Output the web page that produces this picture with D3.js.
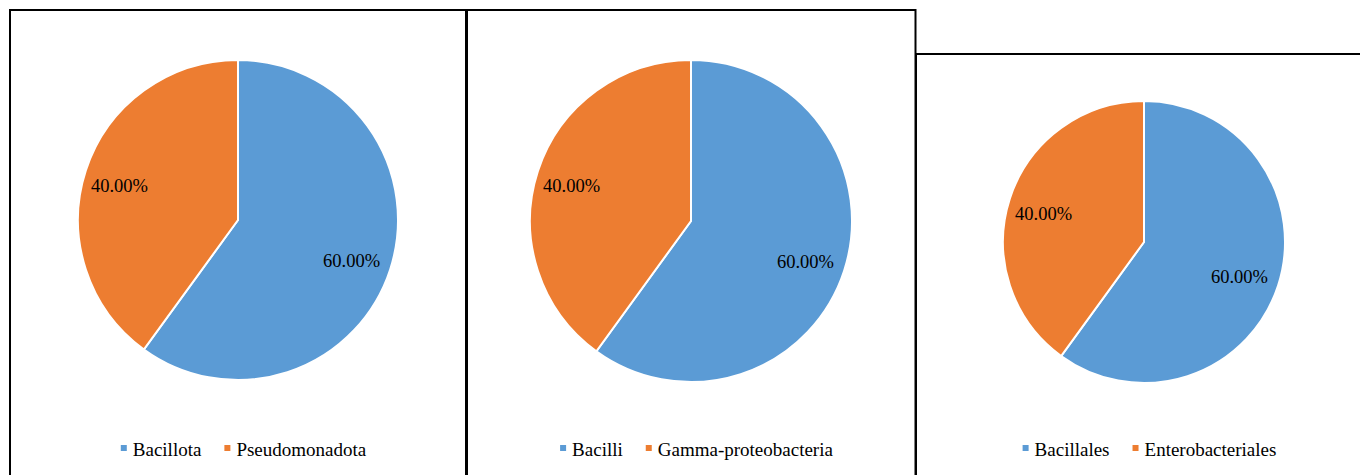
<!DOCTYPE html>
<html>
<head>
<meta charset="utf-8">
<script src="https://cdn.jsdelivr.net/npm/d3@7"></script>
<style>
html,body{margin:0;padding:0;background:#fff;}
svg{display:block;}
</style>
</head>
<body>
<svg id="chart" width="1360" height="475"></svg>
<script>
// Data
const phylumCategories = ["Bacillota", "Pseudomonadota"];
const phylumValues = [60, 40];
const classCategories = ["Bacilli", "Gamma-proteobacteria"];
const classValues = [60, 40];
const orderCategories = ["Bacillales", "Enterobacteriales"];
const orderValues = [60, 40];
const colors = ["#5B9BD5", "#ED7D31"];

const panels = [
  {cats: phylumCategories, vals: phylumValues, x0: 10, x1: 466, y0: 10, cx: 238, cy: 220, r: 160},
  {cats: classCategories, vals: classValues, x0: 467, x1: 915.5, y0: 10, cx: 691, cy: 221, r: 161},
  {cats: orderCategories, vals: orderValues, x0: 916, x1: 1365, y0: 54, cx: 1144, cy: 242, r: 141}
];

const svg = d3.select("#chart");
const font = "'Liberation Serif','Times New Roman',serif";

panels.forEach(p => {
  const g = svg.append("g");
  const color = d3.scaleOrdinal().domain(p.cats).range(colors);
  const pie = d3.pie().sort(null).value(d => d.v);
  const data = pie(p.cats.map((c, i) => ({c, v: p.vals[i]})));
  const total = d3.sum(p.vals);
  const arc = d3.arc().innerRadius(0).outerRadius(p.r);
  const pg = g.append("g").attr("transform", `translate(${p.cx},${p.cy})`);
  pg.selectAll("path").data(data).join("path")
    .attr("d", arc)
    .attr("fill", d => color(d.data.c))
    .attr("stroke", "#fff")
    .attr("stroke-width", 2);
  pg.selectAll("text").data(data).join("text")
    .attr("transform", d => {
      const a = (d.startAngle + d.endAngle) / 2;
      const rr = p.r - 38;
      return `translate(${Math.sin(a) * rr - 2.5},${-Math.cos(a) * rr + 2})`;
    })
    .attr("text-anchor", "middle")
    .attr("dy", "0.4em")
    .attr("font-family", font)
    .attr("font-size", 18.5)
    .attr("fill", "#000")
    .text(d => (d.data.v / total * 100).toFixed(2) + "%");

  // legend
  const lg = g.append("g");
  let x = 0;
  p.cats.forEach((c, i) => {
    const it = lg.append("g");
    it.append("rect").attr("x", 0).attr("y", -11).attr("width", 6).attr("height", 6).attr("fill", color(c));
    const t = it.append("text").attr("x", 12).attr("y", 0)
      .attr("font-family", font).attr("font-size", 19).attr("fill", "#000").text(c);
    const w = 12 + t.node().getComputedTextLength();
    it.attr("transform", `translate(${x},0)`);
    x += w + 23;
  });
  const totalW = x - 23;
  lg.attr("transform", `translate(${p.cx + 5.5 - totalW / 2},456)`);

  // border
  g.append("path")
    .attr("d", `M${p.x0},480 L${p.x0},${p.y0} L${p.x1},${p.y0} L${p.x1},480`)
    .attr("fill", "none").attr("stroke", "#000").attr("stroke-width", 2);
});
</script>
</body>
</html>
